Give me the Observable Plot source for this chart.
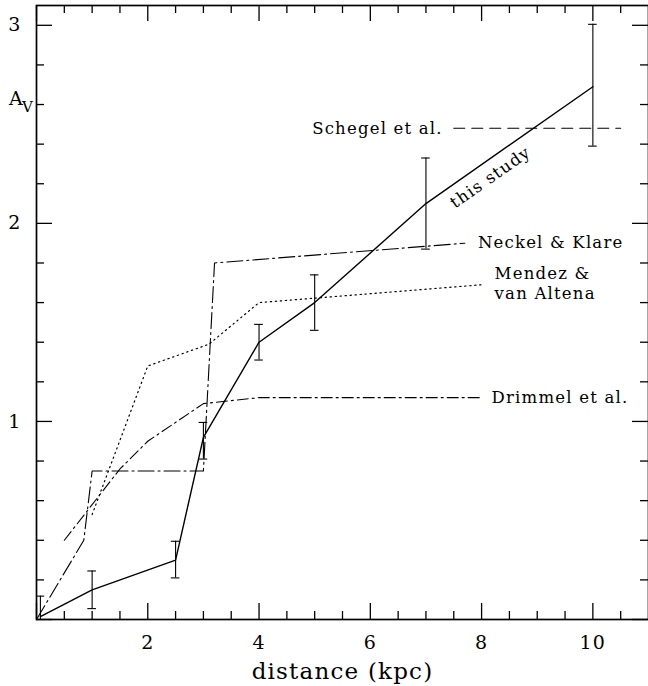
<!DOCTYPE html>
<html>
<head>
<meta charset="utf-8">
<script src="https://cdn.jsdelivr.net/npm/d3@7"></script>
<script src="https://cdn.jsdelivr.net/npm/@observablehq/plot@0.6"></script>
<style>
  html, body { margin: 0; padding: 0; background: #fff; }
</style>
</head>
<body>
<div id="chart"></div>
<script>
// ---- data ----
const studyX  = [0.07, 1.0, 2.5, 3.0, 4.0, 5.0, 7.0, 10.0];
const studyY  = [0.015, 0.15, 0.30, 0.92, 1.40, 1.60, 2.10, 2.69];
const studyHi = [0.118, 0.245, 0.395, 0.995, 1.49, 1.74, 2.33, 3.005];
const studyLo = [-0.09, 0.055, 0.21, 0.81, 1.31, 1.46, 1.87, 2.39];

const neckelX = [0.0, 0.85, 1.0, 3.0, 3.2, 7.7];
const neckelY = [0.0, 0.40, 0.75, 0.75, 1.80, 1.90];

const mendezX = [1.0, 2.0, 3.1, 4.0, 8.0];
const mendezY = [0.53, 1.28, 1.39, 1.60, 1.69];

const drimmelX = [0.5, 1.5, 2.0, 3.0, 4.0, 8.0];
const drimmelY = [0.40, 0.76, 0.90, 1.09, 1.12, 1.12];

const schlegelX = [7.5, 10.5];
const schlegelY = [2.48, 2.48];

const xMajor = [0, 2, 4, 6, 8, 10];
const xMinor = [0.5, 1, 1.5, 2.5, 3, 3.5, 4.5, 5, 5.5, 6.5, 7, 7.5, 8.5, 9, 9.5, 10.5];
const xTickLabels = [2, 4, 6, 8, 10];
const yMajor = [0, 1, 2, 3];
const yMinor = [0.2, 0.4, 0.6, 0.8, 1.2, 1.4, 1.6, 1.8, 2.2, 2.4, 2.6, 2.8];
const yTickLabels = [1, 2, 3];

const xLabel = "distance (kpc)";
const yLabelMain = "A";
const yLabelSub = "V";
const yLabelAt = [2.6];

const labelStudy = "this study";
const labelSchlegel = "Schegel et al.";
const labelNeckel = "Neckel & Klare";
const labelMendez = "Mendez &\nvan Altena";
const labelDrimmel = "Drimmel et al.";

// ---- layout ----
const W = 648, H = 686;
const mL = 36, mR = 0, mT = 5, mB = 67;
const innerW = W - mL - mR, innerH = H - mT - mB;
const xDomain = [0, 11], yDomain = [0, 3.1];
const majorLen = 16, minorLen = 8;
const capHalf = 4.3 * (xDomain[1] - xDomain[0]) / innerW;
const last = a => a[a.length - 1];

const ink = "black";
const lw = 1.3;

const chart = Plot.plot({
  width: W,
  height: H,
  marginLeft: mL,
  marginRight: mR,
  marginTop: mT,
  marginBottom: mB,
  x: {domain: xDomain, axis: null},
  y: {domain: yDomain, axis: null},
  style: "font-family: 'DejaVu Serif', serif; letter-spacing: 1.2px; background: white; color: black;",
  marks: [
    // inward ticks on all four sides
    Plot.ruleX(xMajor, {x: d => d, insetTop: innerH - majorLen, stroke: ink, strokeWidth: lw}),
    Plot.ruleX(xMajor, {x: d => d, insetBottom: innerH - majorLen, stroke: ink, strokeWidth: lw}),
    Plot.ruleX(xMinor, {x: d => d, insetTop: innerH - minorLen, stroke: ink, strokeWidth: lw}),
    Plot.ruleX(xMinor, {x: d => d, insetBottom: innerH - minorLen, stroke: ink, strokeWidth: lw}),
    Plot.ruleY(yMajor, {y: d => d, insetRight: innerW - majorLen, stroke: ink, strokeWidth: lw}),
    Plot.ruleY(yMajor, {y: d => d, insetLeft: innerW - majorLen, stroke: ink, strokeWidth: lw}),
    Plot.ruleY(yMinor, {y: d => d, insetRight: innerW - minorLen, stroke: ink, strokeWidth: lw}),
    Plot.ruleY(yMinor, {y: d => d, insetLeft: innerW - minorLen, stroke: ink, strokeWidth: lw}),
    Plot.frame({stroke: ink, strokeWidth: 1.7}),

    // tick labels
    Plot.text(xTickLabels, {x: d => d, text: d => String(d), frameAnchor: "bottom", dy: 23, fontSize: 19, lineAnchor: "middle", fill: ink}),
    Plot.text(yTickLabels, {y: d => d, text: d => String(d), frameAnchor: "left", dx: -15, textAnchor: "end", fontSize: 19, lineAnchor: "middle", fill: ink}),
    Plot.text([xLabel], {text: d => d, frameAnchor: "bottom", dy: 52, fontSize: 23, lineAnchor: "middle", fill: ink}),
    Plot.text([yLabelMain], {y: yLabelAt, text: d => d, frameAnchor: "left", dx: -27.5, dy: -6, textAnchor: "start", fontSize: 19, fill: ink}),
    Plot.text([yLabelSub], {y: yLabelAt, text: d => d, frameAnchor: "left", dx: -14.5, dy: 3, textAnchor: "start", fontSize: 15, fill: ink}),

    // comparison curves
    Plot.line(schlegelY, {x: schlegelX, y: schlegelY, stroke: ink, strokeWidth: 1.1, strokeDasharray: "11,7"}),
    Plot.line(neckelY, {x: neckelX, y: neckelY, stroke: ink, strokeWidth: 1.1, strokeDasharray: "16,4,2,4", clip: true}),
    Plot.line(mendezY, {x: mendezX, y: mendezY, stroke: ink, strokeWidth: 1.2, strokeDasharray: "1.3,3.7"}),
    Plot.line(drimmelY, {x: drimmelX, y: drimmelY, stroke: ink, strokeWidth: 1.1, strokeDasharray: "11,4,2,4"}),

    // this study with error bars
    Plot.ruleX(studyX, {x: studyX, y1: studyLo, y2: studyHi, stroke: ink, strokeWidth: 1.1, clip: true}),
    Plot.ruleY(studyHi, {y: studyHi, x1: studyX.map(x => x - capHalf), x2: studyX.map(x => x + capHalf), stroke: ink, strokeWidth: 1.1, clip: true}),
    Plot.ruleY(studyLo, {y: studyLo, x1: studyX.map(x => x - capHalf), x2: studyX.map(x => x + capHalf), stroke: ink, strokeWidth: 1.1, clip: true}),
    Plot.line(studyY, {x: studyX, y: studyY, stroke: ink, strokeWidth: 1.4, clip: true}),

    // curve labels
    Plot.text([labelSchlegel], {x: [schlegelX[0]], y: [schlegelY[0]], text: d => d, dx: -11, textAnchor: "end", fontSize: 16.5, fill: ink}),
    Plot.text([labelNeckel], {x: [last(neckelX)], y: [last(neckelY)], text: d => d, dx: 13, textAnchor: "start", fontSize: 16.5, fill: ink}),
    Plot.text([labelMendez], {x: [last(mendezX)], y: [last(mendezY)], text: d => d, dx: 13, dy: -2, textAnchor: "start", lineHeight: 1.17, fontSize: 16.5, fill: ink}),
    Plot.text([labelDrimmel], {x: [last(drimmelX)], y: [last(drimmelY)], text: d => d, dx: 10, textAnchor: "start", fontSize: 16.5, fill: ink}),
    Plot.text([labelStudy], {x: [8.16], y: [2.232], text: d => d, rotate: -35, fontSize: 16.5, fill: ink})
  ]
});

document.getElementById("chart").appendChild(chart);
</script>
</body>
</html>
